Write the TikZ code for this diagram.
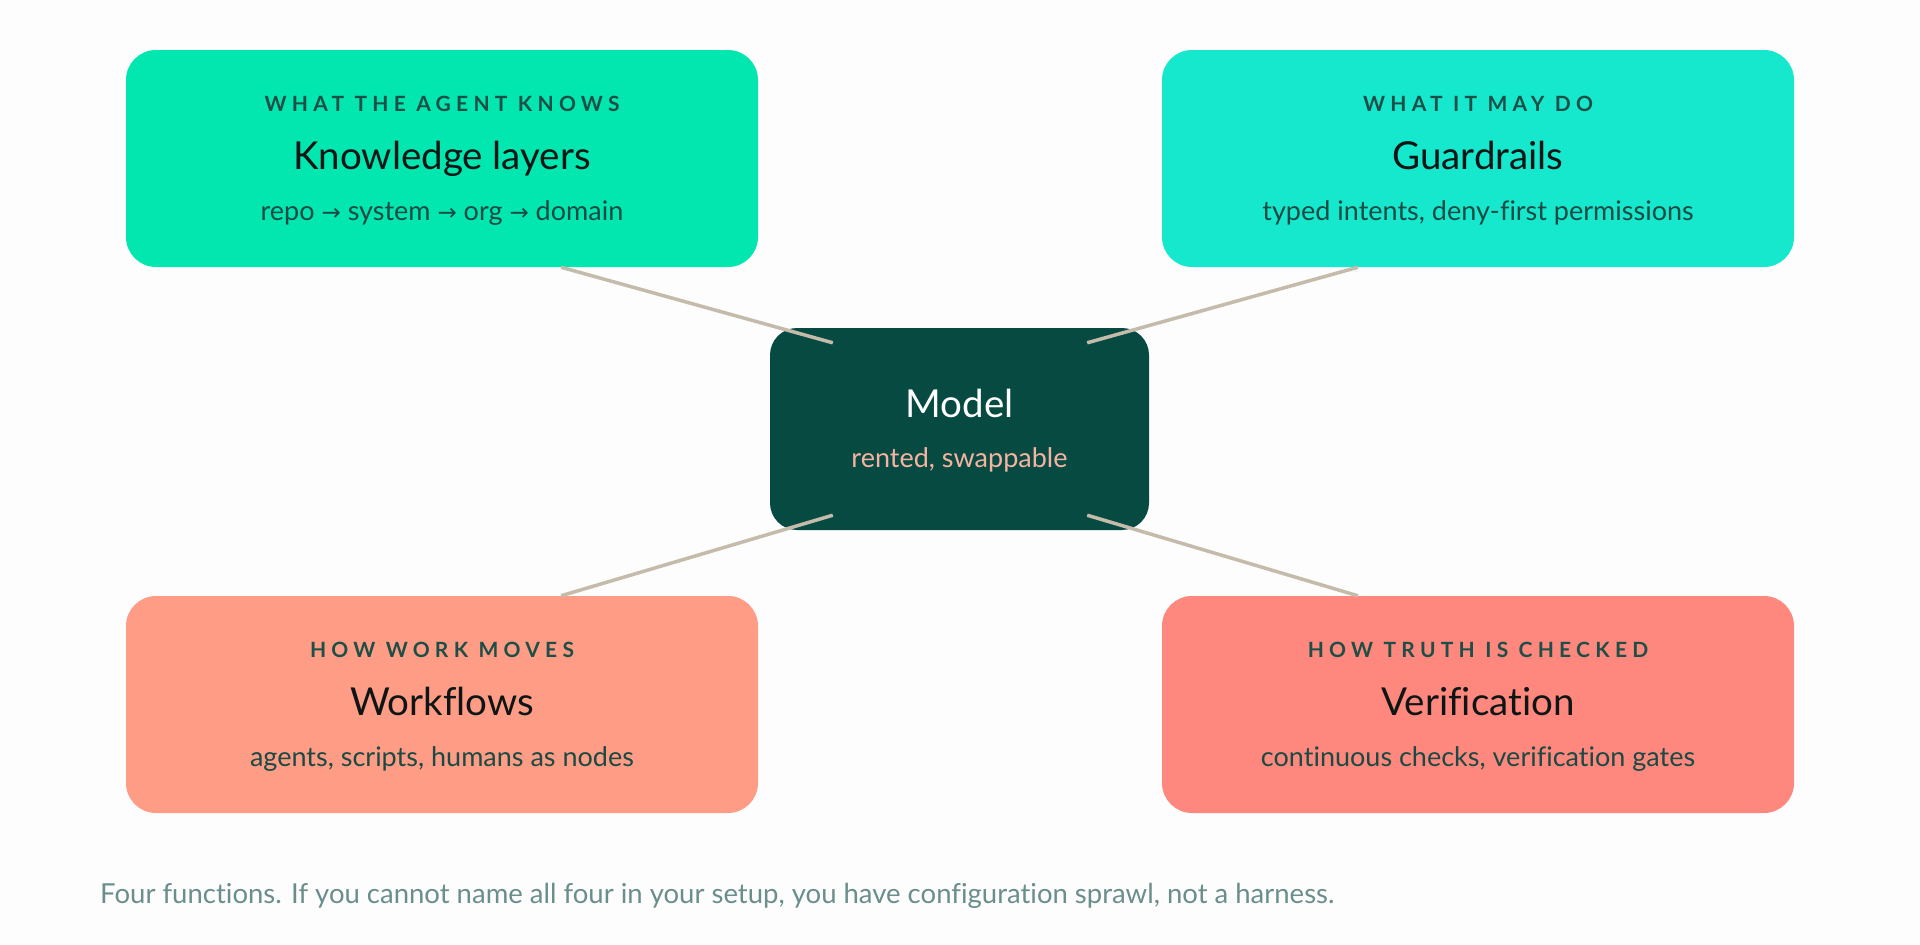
\documentclass[tikz,border=0pt]{standalone}
\usepackage{fontspec}
\setmainfont{Lato}[Ligatures={NoCommon}]
\newfontfamily\arrowfont{DejaVu Sans}
\newfontfamily\labfont[LetterSpace=25]{Lato Bold}
\usetikzlibrary{calc}
\definecolor{bgc}{HTML}{FDFDFD}
\definecolor{kcol}{HTML}{02E6B0}
\definecolor{gcol}{HTML}{16E8CE}
\definecolor{wcol}{HTML}{FF9C85}
\definecolor{vcol}{HTML}{FF887E}
\definecolor{mcol}{HTML}{074A42}
\definecolor{labc}{HTML}{1E4F47}
\definecolor{titc}{HTML}{0D1614}
\definecolor{subc}{HTML}{1A4A43}
\definecolor{rentc}{HTML}{F5B3A2}
\definecolor{capc}{HTML}{6A8E8B}
\definecolor{linec}{HTML}{C4BBAB}
\newcommand{\ar}{{\arrowfont\fontsize{23pt}{27pt}\selectfont →}}
\tikzset{
  outerbox/.style={rounded corners=30pt, minimum width=632pt, minimum height=217pt, inner sep=0pt, draw=none},
  centerbox/.style={rounded corners=27pt, minimum width=379pt, minimum height=202pt, inner sep=0pt, draw=none, fill=mcol},
  lab/.style={anchor=base, inner sep=0pt, text=labc, font=\labfont\fontsize{21pt}{25pt}\selectfont},
  tit/.style={anchor=base, inner sep=0pt, text=titc, font=\fontsize{38.5pt}{46pt}\selectfont},
  sub/.style={anchor=base, inner sep=0pt, text=subc, font=\fontsize{27pt}{32pt}\selectfont},
  conn/.style={draw=linec, line width=3.5pt, line cap=butt},
}
\begin{document}
\begin{tikzpicture}[x=1pt,y=-1pt]
\fill[bgc] (0,0) rectangle (1920,945);
\useasboundingbox (0,0) rectangle (1920,945);

% outer boxes
\node[outerbox, fill=kcol] (kl) at (442,158.5) {};
\node[outerbox, fill=gcol] (gr) at (1478,158.5) {};
\node[outerbox, fill=wcol] (wf) at (442,704.5) {};
\node[outerbox, fill=vcol] (vf) at (1478,704.5) {};

% center box
\node[centerbox] (model) at (959.5,429) {};

% connector end points
\coordinate (klc) at ($(kl.south)+(119,0)$);
\coordinate (grc) at ($(gr.south)+(-120,0)$);
\coordinate (wfc) at ($(wf.north)+(119,0)$);
\coordinate (vfc) at ($(vf.north)+(-120,0)$);
\coordinate (mtl) at ($(model.north west)+(63,15)$);
\coordinate (mtr) at ($(model.north east)+(-62,15)$);
\coordinate (mbl) at ($(model.south west)+(63,-15)$);
\coordinate (mbr) at ($(model.south east)+(-62,-15)$);

\draw[conn] (klc) -- (mtl);
\draw[conn] (grc) -- (mtr);
\draw[conn] (wfc) -- (mbl);
\draw[conn] (vfc) -- (mbr);

% texts top-left
\node[lab] (kllab) at (442,111) {WHAT THE AGENT KNOWS};
\node[tit] (kltit) at (442,169) {Knowledge layers};
\node[sub] (klsub) at (442,220) {repo \ar{} system \ar{} org \ar{} domain};

% top-right
\node[lab] (grlab) at (1478,111) {WHAT IT MAY DO};
\node[tit] (grtit) at (1478,169) {Guardrails};
\node[sub] (grsub) at (1478,220) {typed intents, deny-first permissions};

% bottom-left
\node[lab] (wflab) at (442,657) {HOW WORK MOVES};
\node[tit] (wftit) at (442,715) {Workflows};
\node[sub] (wfsub) at (442,766) {agents, scripts, humans as nodes};

% bottom-right
\node[lab] (vflab) at (1478,657) {HOW TRUTH IS CHECKED};
\node[tit] (vftit) at (1478,715) {Verification};
\node[sub] (vfsub) at (1478,766) {continuous checks, verification gates};

% center texts
\node[anchor=base, inner sep=0pt, text=white, font=\fontsize{38.5pt}{46pt}\selectfont] (mtit) at (959.5,417) {Model};
\node[anchor=base, inner sep=0pt, text=rentc, font=\fontsize{27pt}{32pt}\selectfont] (msub) at (959.5,467) {rented, swappable};

% caption
\node[anchor=base west, inner sep=0pt, text=capc, font=\fontsize{27.5pt}{33pt}\selectfont] (cap) at (100,903) {Four functions. If you cannot name all four in your setup, you have configuration sprawl, not a harness.};
\end{tikzpicture}
\end{document}
